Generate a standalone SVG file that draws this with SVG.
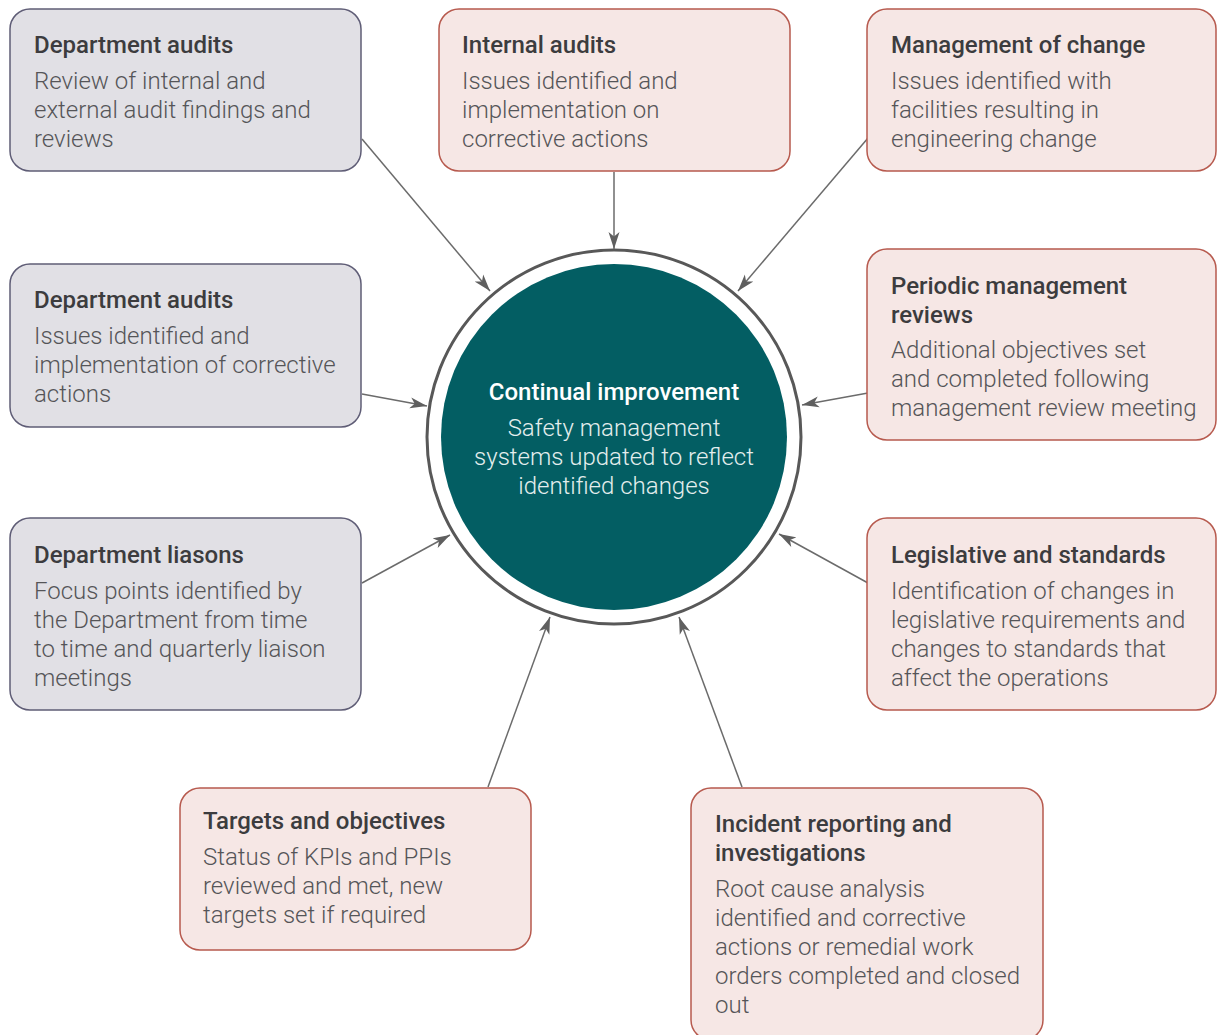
<svg xmlns="http://www.w3.org/2000/svg" width="1217" height="1035" viewBox="0 0 1217 1035">
  <style>
    .box-grey { fill: #e1e0e5; stroke: #5f5d76; stroke-width: 1.5; }
    .box-pink { fill: #f6e7e5; stroke: #b75a4e; stroke-width: 1.5; }
    .title { font-family: Roboto, "Liberation Sans", sans-serif; font-weight: 500; font-size: 24px; fill: #3c3c3e; }
    .body { font-family: Roboto, "Liberation Sans", sans-serif; font-weight: 300; font-size: 24px; fill: #555558; }
    .c-title { font-family: Roboto, "Liberation Sans", sans-serif; font-weight: 500; font-size: 24px; fill: #ffffff; text-anchor: middle; }
    .c-body { font-family: Roboto, "Liberation Sans", sans-serif; font-weight: 300; font-size: 24px; fill: #e4eeee; text-anchor: middle; }
    .conn { stroke: #6b6b6b; stroke-width: 1.5; fill: none; marker-end: url(#arrow); }
  </style>
  <defs>
    <marker id="arrow" markerUnits="userSpaceOnUse" markerWidth="18" markerHeight="12" viewBox="0 0 18 12" refX="17" refY="6" orient="auto">
      <path d="M0,0.5 L17,6 L0,11.5 L4.5,6 Z" fill="#5f5f5f"/>
    </marker>
  </defs>

  <rect width="1217" height="1035" fill="#ffffff"/>

  <!-- central hub -->
  <g id="hub">
    <circle cx="614" cy="437" r="187" fill="#ffffff" stroke="#585858" stroke-width="3"/>
    <circle cx="614" cy="437" r="173" fill="#035e63"/>
    <text class="c-title" x="614" y="400">Continual improvement</text>
    <text class="c-body" x="614" y="436">Safety management</text>
    <text class="c-body" x="614" y="465">systems updated to reflect</text>
    <text class="c-body" x="614" y="494">identified changes</text>
  </g>

  <!-- connectors: each input feeds into the hub -->
  <g id="connectors">
    <line class="conn" x1="362" y1="139" x2="490" y2="291"/>
    <line class="conn" x1="614" y1="172" x2="614" y2="249"/>
    <line class="conn" x1="868" y1="138" x2="738" y2="291"/>
    <line class="conn" x1="362" y1="394" x2="427" y2="406"/>
    <line class="conn" x1="868" y1="393" x2="802" y2="405"/>
    <line class="conn" x1="362" y1="583" x2="450" y2="535"/>
    <line class="conn" x1="868" y1="583" x2="779" y2="534"/>
    <line class="conn" x1="488" y1="787" x2="550" y2="617"/>
    <line class="conn" x1="742" y1="787" x2="679" y2="617"/>
  </g>

  <g id="dept-audits-review">
    <rect class="box-grey" x="10" y="9" width="351" height="162" rx="20"/>
    <text class="title" x="34" y="53">Department audits</text>
    <text class="body" x="34" y="89">Review of internal and</text>
    <text class="body" x="34" y="118">external audit findings and</text>
    <text class="body" x="34" y="147">reviews</text>
  </g>

  <g id="internal-audits">
    <rect class="box-pink" x="439" y="9" width="351" height="162" rx="20"/>
    <text class="title" x="462" y="53">Internal audits</text>
    <text class="body" x="462" y="89">Issues identified and</text>
    <text class="body" x="462" y="118">implementation on</text>
    <text class="body" x="462" y="147">corrective actions</text>
  </g>

  <g id="management-of-change">
    <rect class="box-pink" x="867" y="9" width="349" height="162" rx="20"/>
    <text class="title" x="891" y="53">Management of change</text>
    <text class="body" x="891" y="89">Issues identified with</text>
    <text class="body" x="891" y="118">facilities resulting in</text>
    <text class="body" x="891" y="147">engineering change</text>
  </g>

  <g id="dept-audits-corrective">
    <rect class="box-grey" x="10" y="264" width="351" height="163" rx="20"/>
    <text class="title" x="34" y="308">Department audits</text>
    <text class="body" x="34" y="344">Issues identified and</text>
    <text class="body" x="34" y="373">implementation of corrective</text>
    <text class="body" x="34" y="402">actions</text>
  </g>

  <g id="periodic-reviews">
    <rect class="box-pink" x="867" y="249" width="349" height="191" rx="20"/>
    <text class="title" x="891" y="294">Periodic management</text>
    <text class="title" x="891" y="323">reviews</text>
    <text class="body" x="891" y="358">Additional objectives set</text>
    <text class="body" x="891" y="387">and completed following</text>
    <text class="body" x="891" y="416">management review meeting</text>
  </g>

  <g id="dept-liasons">
    <rect class="box-grey" x="10" y="518" width="351" height="192" rx="20"/>
    <text class="title" x="34" y="563">Department liasons</text>
    <text class="body" x="34" y="599">Focus points identified by</text>
    <text class="body" x="34" y="628">the Department from time</text>
    <text class="body" x="34" y="657">to time and quarterly liaison</text>
    <text class="body" x="34" y="686">meetings</text>
  </g>

  <g id="legislative">
    <rect class="box-pink" x="867" y="518" width="349" height="192" rx="20"/>
    <text class="title" x="891" y="563">Legislative and standards</text>
    <text class="body" x="891" y="599">Identification of changes in</text>
    <text class="body" x="891" y="628">legislative requirements and</text>
    <text class="body" x="891" y="657">changes to standards that</text>
    <text class="body" x="891" y="686">affect the operations</text>
  </g>

  <g id="targets">
    <rect class="box-pink" x="180" y="788" width="351" height="162" rx="20"/>
    <text class="title" x="203" y="829">Targets and objectives</text>
    <text class="body" x="203" y="865">Status of KPIs and PPIs</text>
    <text class="body" x="203" y="894">reviewed and met, new</text>
    <text class="body" x="203" y="923">targets set if required</text>
  </g>

  <g id="incident-reporting">
    <rect class="box-pink" x="691" y="788" width="352" height="252" rx="20"/>
    <text class="title" x="715" y="832">Incident reporting and</text>
    <text class="title" x="715" y="861">investigations</text>
    <text class="body" x="715" y="897">Root cause analysis</text>
    <text class="body" x="715" y="926">identified and corrective</text>
    <text class="body" x="715" y="955">actions or remedial work</text>
    <text class="body" x="715" y="984">orders completed and closed</text>
    <text class="body" x="715" y="1013">out</text>
  </g>
</svg>
